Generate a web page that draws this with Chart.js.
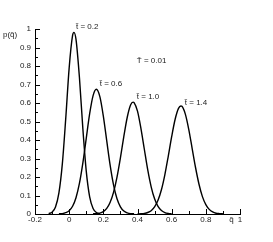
<!DOCTYPE html>
<html>
<head>
<meta charset="utf-8">
<script src="https://cdn.jsdelivr.net/npm/chart.js"></script>
<style>
  body { margin: 0; background: #fff; }
</style>
</head>
<body>
<canvas id="dist" width="273" height="242"></canvas>
<script>
// curves, one per time value
var q02 = [-0.12, -0.10, -0.08, -0.06, -0.04, -0.02, 0, 0.02, 0.028, 0.04, 0.06, 0.08, 0.10, 0.12, 0.14, 0.16, 0.18];
var p02 = [0.002, 0.010, 0.038, 0.114, 0.271, 0.517, 0.790, 0.965, 0.982, 0.944, 0.739, 0.463, 0.232, 0.093, 0.030, 0.008, 0.002];

var q06 = [-0.06, -0.04, -0.02, 0, 0.02, 0.04, 0.06, 0.08, 0.10, 0.12, 0.14, 0.159, 0.18, 0.20, 0.22, 0.24, 0.26, 0.28, 0.30, 0.32, 0.34, 0.36, 0.38];
var p06 = [0.001, 0.002, 0.007, 0.018, 0.042, 0.088, 0.165, 0.275, 0.409, 0.542, 0.640, 0.674, 0.633, 0.529, 0.395, 0.263, 0.156, 0.082, 0.039, 0.016, 0.006, 0.002, 0.001];

var q10 = [0.14, 0.16, 0.18, 0.20, 0.22, 0.24, 0.26, 0.28, 0.30, 0.32, 0.34, 0.36, 0.374, 0.38, 0.40, 0.42, 0.44, 0.46, 0.48, 0.50, 0.52, 0.54, 0.56, 0.58, 0.60];
var p10 = [0.001, 0.002, 0.005, 0.013, 0.030, 0.063, 0.118, 0.199, 0.303, 0.419, 0.523, 0.590, 0.605, 0.602, 0.556, 0.463, 0.350, 0.238, 0.147, 0.082, 0.041, 0.019, 0.008, 0.003, 0.001];

var q14 = [0.40, 0.42, 0.44, 0.46, 0.48, 0.50, 0.52, 0.54, 0.56, 0.58, 0.60, 0.62, 0.64, 0.654, 0.66, 0.68, 0.70, 0.72, 0.74, 0.76, 0.78, 0.80, 0.82, 0.84, 0.86, 0.88, 0.90];
var p14 = [0.000, 0.001, 0.003, 0.008, 0.018, 0.038, 0.074, 0.131, 0.212, 0.312, 0.418, 0.511, 0.571, 0.584, 0.582, 0.540, 0.458, 0.354, 0.250, 0.161, 0.094, 0.051, 0.025, 0.011, 0.004, 0.002, 0.001];

var xTicks = [-0.2, 0, 0.2, 0.4, 0.6, 0.8, 1];
var yTicks = [0, 0.1, 0.2, 0.3, 0.4, 0.5, 0.6, 0.7, 0.8, 0.9, 1];

// text labels and where they sit, in data units
var notes = ['t\u0303 = 0.2', 't\u0303 = 0.6', 'T\u0304 = 0.01', 't\u0303 = 1.0', 't\u0303 = 1.4'];
var noteQ = [0.04, 0.179, 0.396, 0.396, 0.677];
var noteP = [1.01, 0.703, 0.829, 0.634, 0.60];

function pts(xs, ys) {
  return xs.map(function (x, i) { return { x: x, y: ys[i] }; });
}

function curve(xs, ys) {
  return {
    data: pts(xs, ys),
    borderColor: '#000',
    borderWidth: 1.4,
    pointRadius: 0,
    fill: false,
    cubicInterpolationMode: 'monotone'
  };
}

Chart.defaults.font.family = '"Liberation Sans", Arial, sans-serif';
Chart.defaults.font.size = 8;
Chart.defaults.color = '#222';

// tecplot-like ticks pointing into the plot, plus the free text
var extras = {
  id: 'extras',
  afterDraw: function (chart) {
    var c = chart.ctx, xs = chart.scales.x, ys = chart.scales.y;
    var a = chart.chartArea;
    c.save();
    c.strokeStyle = '#000';
    c.lineWidth = 1;
    c.beginPath();
    for (var i = 0; i < yTicks.length; i++) {
      var py = Math.round(ys.getPixelForValue(yTicks[i])) + 0.5;
      c.moveTo(a.left, py); c.lineTo(a.left + 5, py);
      if (i < yTicks.length - 1) {
        var my = Math.round(ys.getPixelForValue(yTicks[i] + 0.05)) + 0.5;
        c.moveTo(a.left, my); c.lineTo(a.left + 3, my);
      }
    }
    for (var j = 0; j < xTicks.length; j++) {
      var px = Math.round(xs.getPixelForValue(xTicks[j])) + 0.5;
      c.moveTo(px, a.bottom); c.lineTo(px, a.bottom - 5);
      if (j < xTicks.length - 1) {
        var mx = Math.round(xs.getPixelForValue(xTicks[j] + 0.1)) + 0.5;
        c.moveTo(mx, a.bottom); c.lineTo(mx, a.bottom - 3);
      }
    }
    c.stroke();

    c.fillStyle = '#222';
    c.font = '8px "Liberation Sans", Arial, sans-serif';
    c.textBaseline = 'middle';
    c.textAlign = 'left';
    for (var k = 0; k < notes.length; k++) {
      c.fillText(notes[k], xs.getPixelForValue(noteQ[k]), ys.getPixelForValue(noteP[k]));
    }
    // axis names
    c.fillText('p(q\u0303)', 3, a.top + 6);
    c.textAlign = 'center';
    c.fillText('q\u0303', xs.getPixelForValue(0.95), a.bottom + 6);
    c.restore();
  }
};

var ctx = document.getElementById('dist');
var chart = new Chart(ctx, {
  type: 'line',
  data: {
    datasets: [curve(q02, p02), curve(q06, p06), curve(q10, p10), curve(q14, p14)]
  },
  options: {
    responsive: false,
    animation: false,
    layout: { padding: { left: 0, right: 33, top: 29, bottom: 0 } },
    plugins: { legend: { display: false }, tooltip: { enabled: false } },
    scales: {
      x: {
        type: 'linear',
        min: -0.2,
        max: 1,
        afterBuildTicks: function (s) { s.ticks = xTicks.map(function (v) { return { value: v }; }); },
        afterFit: function (s) { s.height = 28; },
        ticks: { padding: 1, maxRotation: 0, autoSkip: false,
          callback: function (v) { return String(Math.round(v * 10) / 10); } },
        grid: { drawOnChartArea: false, drawTicks: false },
        border: { display: true, color: '#000', width: 1 }
      },
      y: {
        min: 0,
        max: 1,
        afterBuildTicks: function (s) { s.ticks = yTicks.map(function (v) { return { value: v }; }); },
        afterFit: function (s) { s.width = 35; },
        ticks: { padding: 4, autoSkip: false,
          callback: function (v) { return String(Math.round(v * 10) / 10); } },
        grid: { drawOnChartArea: false, drawTicks: false },
        border: { display: true, color: '#000', width: 1 }
      }
    }
  },
  plugins: [extras]
});
</script>
</body>
</html>
